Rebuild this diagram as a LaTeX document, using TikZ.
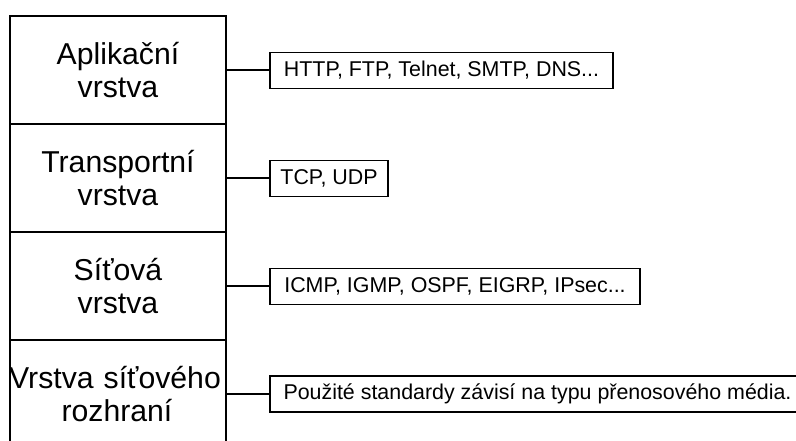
\documentclass[tikz,border=0pt]{standalone}
\usepackage{fontspec}
\setmainfont{Liberation Sans}
\newcommand\biglayerfont{\fontsize{30.2}{33.5}\selectfont}
\newcommand\smallprotofont{\fontsize{21.4}{25}\selectfont}
\begin{document}
\begin{tikzpicture}[x=1pt,y=-1pt,
  layerbox/.style={draw, line width=1.2pt, text width=216pt, minimum height=108pt, inner sep=0pt, font=\biglayerfont, align=center},
  protobox/.style={draw, line width=1.2pt, minimum height=36pt, inner sep=0pt, font=\smallprotofont},
  conn/.style={line width=1.2pt}]
\useasboundingbox (0,0) rectangle (796,441);
\clip (0,0) rectangle (796,441);
\fill[white] (0,0) rectangle (796,441);
\node[layerbox] (l1) at (118,70) {Aplikační\\vrstva};
\node[layerbox] (l2) at (118,178) {Transportní\\vrstva};
\node[layerbox] (l3) at (118,286) {Síťová\\vrstva};
\node[layerbox] (l4) at (118,394) {\hspace*{-6pt}Vrstva síťového\hspace*{6pt}\\\hspace*{-2pt}rozhraní\hspace*{2pt}};
\node[protobox, minimum width=343pt] (p1) at (441.5,70.5) {HTTP, FTP, Telnet, SMTP, DNS...};
\node[protobox, minimum width=118pt] (p2) at (329,178.5) {TCP, UDP};
\node[protobox, minimum width=370pt] (p3) at (455,286.3) {ICMP, IGMP, OSPF, EIGRP, IPsec...};
\node[protobox, minimum width=535pt] (p4) at (537.5,394) {Použité standardy závisí na typu přenosového média.};
\draw[conn] (l1.east) -- (l1.east -| p1.west);
\draw[conn] (l2.east) -- (l2.east -| p2.west);
\draw[conn] (l3.east) -- (l3.east -| p3.west);
\draw[conn] (l4.east) -- (l4.east -| p4.west);
\end{tikzpicture}
\end{document}
